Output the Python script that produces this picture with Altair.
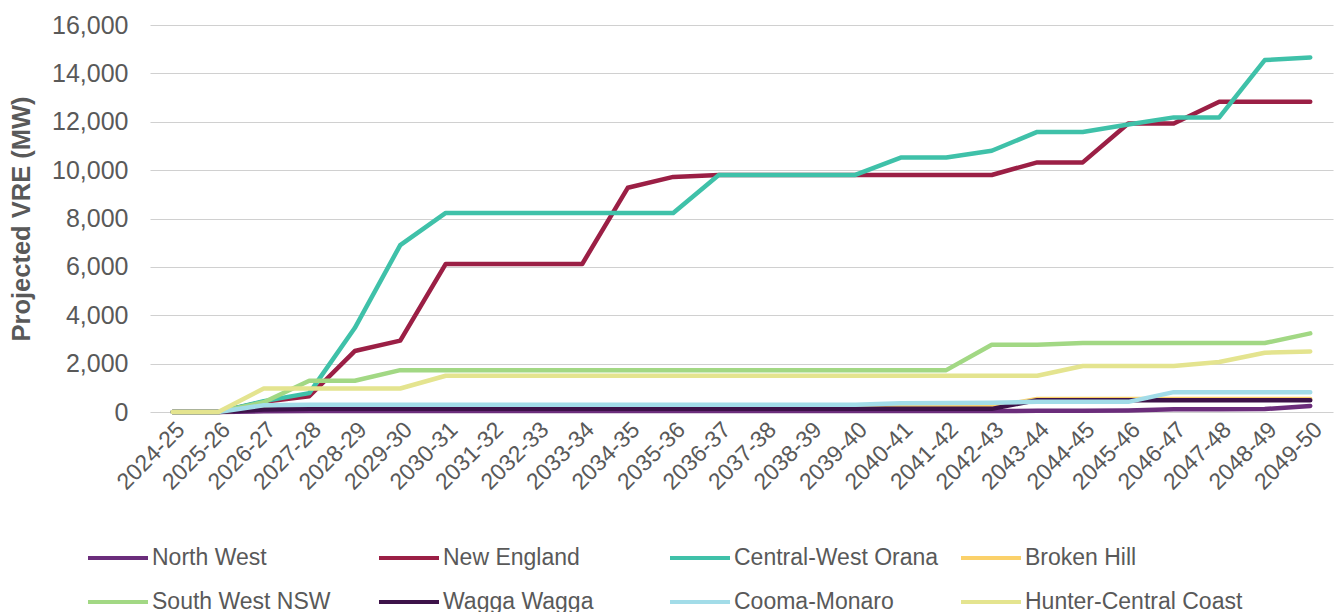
import altair as alt
import pandas as pd

years = ["2024-25", "2025-26", "2026-27", "2027-28", "2028-29", "2029-30", "2030-31",
         "2031-32", "2032-33", "2033-34", "2034-35", "2035-36", "2036-37", "2037-38",
         "2038-39", "2039-40", "2040-41", "2041-42", "2042-43", "2043-44", "2044-45",
         "2045-46", "2046-47", "2047-48", "2048-49", "2049-50"]

series_names = ["North West", "New England", "Central-West Orana", "Broken Hill",
                "South West NSW", "Wagga Wagga", "Cooma-Monaro", "Hunter-Central Coast"]
series_colors = ["#6B2D7B", "#9B1F45", "#3FC1A9", "#FBD16A",
                 "#A2D884", "#3D1249", "#A2DCE8", "#E4E48F"]

north_west = [0, 0, 30, 40, 40, 40, 40, 40, 40, 40, 40, 40, 40, 40, 40, 40, 40, 40, 40,
              50, 50, 60, 110, 110, 120, 250]
new_england = [0, 0, 420, 650, 2520, 2950, 6120, 6120, 6120, 6120, 9270, 9720, 9800, 9800,
               9800, 9800, 9800, 9800, 9800, 10320, 10320, 11930, 11930, 12830, 12830, 12830]
central_west_orana = [0, 0, 450, 780, 3470, 6900, 8230, 8230, 8230, 8230, 8230, 8230, 9800,
                      9800, 9800, 9800, 10520, 10520, 10800, 11580, 11580, 11890, 12180,
                      12180, 14550, 14660]
broken_hill = [0, 0, 150, 200, 200, 200, 200, 200, 200, 200, 200, 200, 200, 200, 200, 200,
               200, 200, 200, 540, 540, 540, 540, 540, 540, 540]
south_west_nsw = [0, 0, 400, 1290, 1290, 1730, 1730, 1730, 1730, 1730, 1730, 1730, 1730,
                  1730, 1730, 1730, 1730, 1730, 2780, 2780, 2850, 2850, 2850, 2850, 2850, 3250]
wagga_wagga = [0, 0, 100, 130, 130, 130, 130, 130, 130, 130, 130, 130, 130, 130, 130, 130,
               130, 130, 130, 490, 490, 490, 490, 490, 490, 490]
cooma_monaro = [0, 0, 280, 300, 300, 300, 300, 300, 300, 300, 300, 300, 300, 300, 300, 300,
                360, 370, 380, 420, 420, 420, 820, 820, 820, 820]
hunter_central_coast = [0, 0, 970, 970, 970, 970, 1500, 1500, 1500, 1500, 1500, 1500, 1500,
                        1500, 1500, 1500, 1500, 1500, 1500, 1500, 1900, 1900, 1900, 2070,
                        2450, 2500]

series_values = [north_west, new_england, central_west_orana, broken_hill,
                 south_west_nsw, wagga_wagga, cooma_monaro, hunter_central_coast]

rows = []
for name, vals in zip(series_names, series_values):
    for yr, v in zip(years, vals):
        rows.append({"region": name, "year": yr, "mw": v})
df = pd.DataFrame(rows)

text_color = "#595959"

x_enc = alt.X("year:N", sort=years, scale=alt.Scale(type="point", padding=0.5),
              axis=alt.Axis(title=None, labelAngle=-45, labelFontSize=23,
                            labelColor=text_color, domain=False, ticks=False,
                            labelPadding=6, grid=False, labelOverlap=False))
y_enc = alt.Y("mw:Q", scale=alt.Scale(domain=[0, 16000], nice=False),
              axis=alt.Axis(title="Projected VRE (MW)", values=list(range(0, 16001, 2000)),
                            format=",.0f", labelFontSize=25, labelColor=text_color,
                            domain=False, ticks=False, labelPadding=22,
                            gridColor="#d0d0d0", gridWidth=1.2,
                            titleFontSize=25.5, titleFontWeight="bold",
                            titleColor=text_color, titlePadding=17))
color_enc = alt.Color("region:N",
                      scale=alt.Scale(domain=series_names, range=series_colors),
                      legend=alt.Legend(title=None, orient="none", direction="horizontal",
                                        legendX=-64, legendY=501,
                                        columns=4, symbolType="stroke", symbolSize=3600,
                                        symbolStrokeWidth=4, labelFontSize=23,
                                        labelLimit=400,
                                        labelColor=text_color, gridAlign="all",
                                        columnPadding=1, rowPadding=-21, labelOffset=2,
                                        padding=0))

base = alt.Chart(df)
layers = []
for name in series_names:
    layers.append(
        base.transform_filter(alt.datum.region == name)
        .mark_line(strokeWidth=4.5, strokeCap="round", strokeJoin="round")
        .encode(x=x_enc, y=y_enc, color=color_enc)
    )

chart = (
    alt.layer(*layers)
    .properties(width=1183, height=387,
                autosize=alt.AutoSizeParams(type="none"),
                padding={"left": 150, "top": 25, "right": 2, "bottom": 200})
    .configure(font="Liberation Sans")
    .configure_view(stroke=None)
)

chart.save("out.html", embed_options={"renderer": "svg", "actions": False})
